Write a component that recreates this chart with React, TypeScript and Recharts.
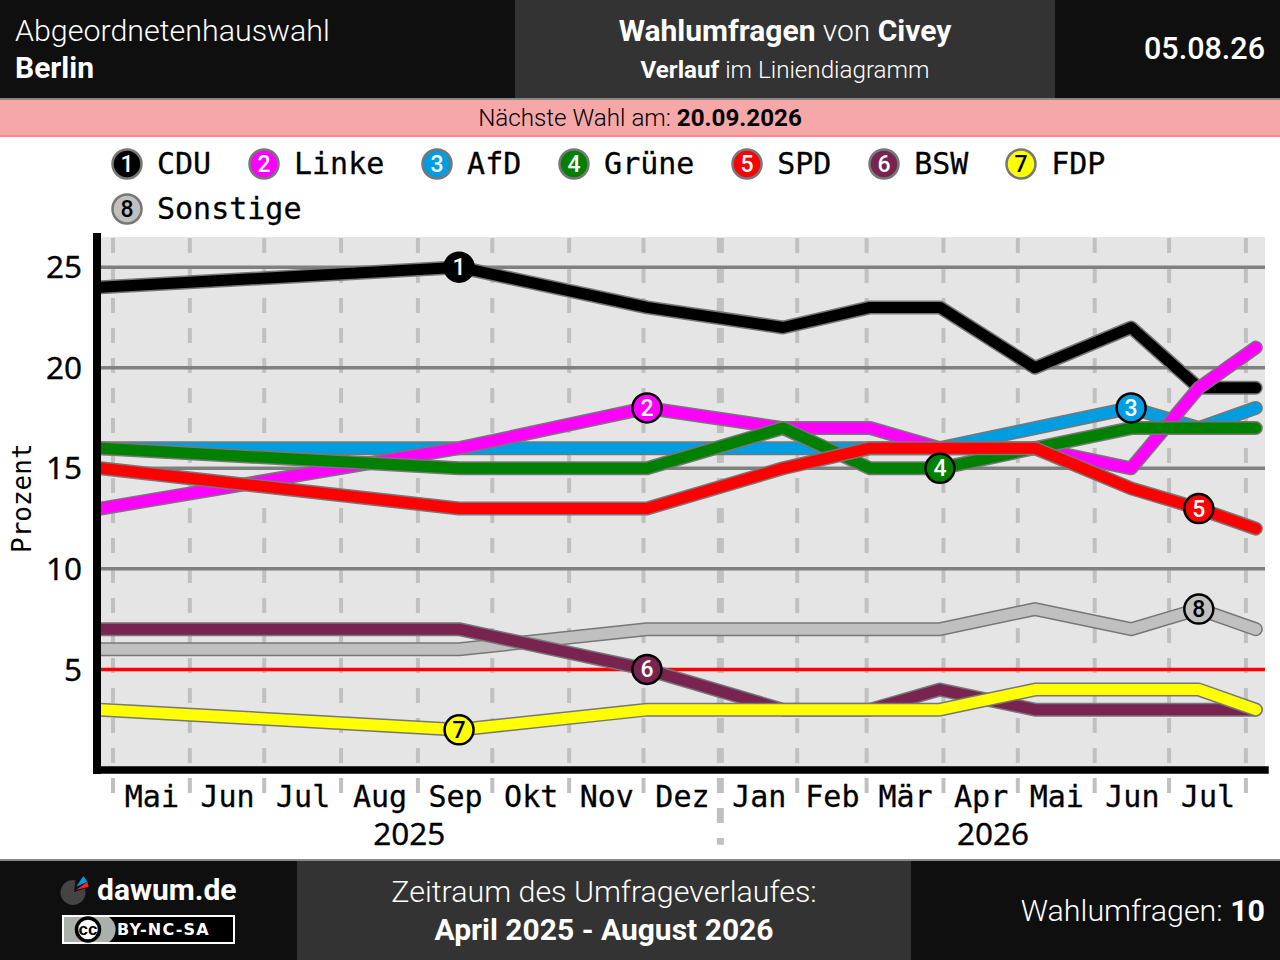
import React from 'react';
import { LineChart, Line, XAxis, YAxis, CartesianGrid, ReferenceLine, Legend } from 'recharts';

// Days since 1 May 2025
const pollDays = [-5, 139.6, 215.4, 270.3, 305.4, 333.6, 371.9, 410.7, 438, 461];

const cdu = [24, 25, 23, 22, 23, 23, 20, 22, 19, 19];
const linke = [13, 16, 18, 17, 17, 16, 16, 15, 19, 21];
const afd = [16, 16, 16, 16, 16, 16, 17, 18, 17, 18];
const gruene = [16, 15, 15, 17, 15, 15, 16, 17, 17, 17];
const spd = [15, 13, 13, 15, 16, 16, 16, 14, 13, 12];
const bsw = [7, 7, 5, 3, 3, 4, 3, 3, 3, 3];
const fdp = [3, 2, 3, 3, 3, 3, 4, 4, 4, 3];
const sonstige = [6, 6, 7, 7, 7, 7, 8, 7, 8, 7];

const monthStarts = [0, 31, 61, 92, 123, 153, 184, 214, 245, 276, 304, 335, 365, 396, 426, 457];
const monthNames = ['Mai', 'Jun', 'Jul', 'Aug', 'Sep', 'Okt', 'Nov', 'Dez', 'Jan', 'Feb', 'Mär', 'Apr', 'Mai', 'Jun', 'Jul'];
const yearStart = 245;
const yearTicks = [{ day: 119.5, label: '2025' }, { day: 355, label: '2026' }];

const yGrid = [10, 15, 20, 25];
const yTicks = [5, 10, 15, 20, 25];

interface Party {
    key: string;
    name: string;
    badge: number;
    color: string;
    textColor: string;
    values: number[];
    badgeAt: number;
}

// Legend order, numbered as in the reference
const parties: Party[] = [
    { key: 'cdu', name: 'CDU', badge: 1, color: '#000000', textColor: '#fff', values: cdu, badgeAt: 1 },
    { key: 'linke', name: 'Linke', badge: 2, color: '#ff00ff', textColor: '#fff', values: linke, badgeAt: 2 },
    { key: 'afd', name: 'AfD', badge: 3, color: '#009ee0', textColor: '#fff', values: afd, badgeAt: 7 },
    { key: 'gruene', name: 'Grüne', badge: 4, color: '#008000', textColor: '#fff', values: gruene, badgeAt: 5 },
    { key: 'spd', name: 'SPD', badge: 5, color: '#ff0000', textColor: '#fff', values: spd, badgeAt: 8 },
    { key: 'bsw', name: 'BSW', badge: 6, color: '#792350', textColor: '#fff', values: bsw, badgeAt: 2 },
    { key: 'fdp', name: 'FDP', badge: 7, color: '#ffff00', textColor: '#000', values: fdp, badgeAt: 1 },
    { key: 'sonstige', name: 'Sonstige', badge: 8, color: '#c0c0c0', textColor: '#000', values: sonstige, badgeAt: 8 },
];

// Paint order of the lines, bottom to top
const drawOrder = ['cdu', 'afd', 'linke', 'gruene', 'spd', 'sonstige', 'bsw', 'fdp'];

const chartData = pollDays.map((day, i) => {
    const row: Record<string, number> = { day };
    parties.forEach((p) => { row[p.key] = p.values[i]; });
    return row;
});

const monthMids = monthNames.map((_, i) => (monthStarts[i] + monthStarts[i + 1]) / 2);
const MONO = '"DejaVu Sans Mono", monospace';
const DIGITS = '"Noto Sans", sans-serif';
const SANS = 'Roboto, sans-serif';

const XTick = ({ x, y, payload }: any) => {
    const idx = monthMids.indexOf(payload.value);
    if (idx >= 0) {
        return <text x={x + 0.5} y={y + 28.5} textAnchor="middle" fontFamily={MONO} fontSize={30} fill="#000" stroke="#000" strokeWidth={0.3}>{monthNames[idx]}</text>;
    }
    const year = yearTicks.find((t) => t.day === payload.value);
    return <text x={x} y={y + 66.5} textAnchor="middle" fontFamily={DIGITS} fontSize={31.5} fill="#000" stroke="#000" strokeWidth={0.3}>{year ? year.label : ''}</text>;
};

const LegendContent = () => (
    <div style={{ display: 'flex', flexWrap: 'wrap', paddingLeft: 111, paddingTop: 11, width: 1100, rowGap: 13 }}>
        {parties.map((p) => (
            <div key={p.key} style={{ display: 'flex', alignItems: 'center', marginRight: 36.8, height: 32 }}>
                <svg width={32} height={32} style={{ marginRight: 14 }}>
                    <circle cx={16} cy={16} r={14.5} fill={p.color} stroke="#777" strokeWidth={2.5} />
                    <text x={16} y={24} textAnchor="middle" fontFamily={SANS} fontWeight={500} fontSize={23} fill={p.textColor}>{p.badge}</text>
                </svg>
                <span style={{ fontFamily: MONO, fontSize: 30, lineHeight: '32px', color: '#000', WebkitTextStroke: '0.3px #000' }}>{p.name}</span>
            </div>
        ))}
    </div>
);

const badgeDot = (p: Party) => (props: any) => {
    const { cx, cy, index } = props;
    if (index !== p.badgeAt) return <g key={index} />;
    return (
        <g key={index}>
            <circle cx={cx} cy={cy} r={14.5} fill={p.color} stroke="#000" strokeWidth={2.5} />
            <text x={cx} y={cy + 8} textAnchor="middle" fontFamily={SANS} fontWeight={500} fontSize={23} fill={p.textColor}>{p.badge}</text>
        </g>
    );
};

const abs = (left: number, top: number, extra: React.CSSProperties = {}): React.CSSProperties => ({
    position: 'absolute',
    left,
    top,
    whiteSpace: 'nowrap',
    fontFamily: SANS,
    ...extra,
});

const Logo = () => (
    <svg width={32} height={34} style={{ position: 'absolute', left: 59, top: 873 }}>
        <circle cx={14} cy={19.5} r={12.5} fill="#444" />
        <path d="M15 19 L17 3 L31 14 Z" fill="#0f0f0f" />
        <path d="M17.3 13.7 L24.3 3 L28.3 8.7 Z" fill="#009ee0" />
        <path d="M17 17 L28.3 8.7 L29.7 13.7 Z" fill="#ff2020" />
    </svg>
);

const CcBadge = () => (
    <svg width={174} height={30} style={{ position: 'absolute', left: 61, top: 914 }}>
        <rect x={2} y={2} width={171} height={27} fill="#000" stroke="#fff" strokeWidth={2} />
        <path d="M3 3 H48 A15 15 0 0 1 48 28 H3 Z" fill="#aab0aa" />
        <circle cx={27} cy={15.5} r={11.5} fill="#fff" stroke="#000" strokeWidth={3.5} />
        <text x={27} y={21} textAnchor="middle" fontFamily="Liberation Sans" fontWeight={700} fontSize={17} fill="#000">cc</text>
        <text x={56} y={21} fontFamily='"DejaVu Sans"' fontWeight={700} fontSize={16} letterSpacing={1.2} fill="#fff">BY-NC-SA</text>
    </svg>
);

export default function App() {
    return (
        <div style={{ position: 'absolute', left: 0, top: 0, width: 1280, height: 960, background: '#fff', overflow: 'hidden' }}>
            {/* Header */}
            <div style={abs(0, 0, { width: 1280, height: 98, background: '#0f0f0f' })} />
            <div style={abs(515, 0, { width: 540, height: 98, background: '#333' })} />
            <div style={abs(0, 98, { width: 1280, height: 2, background: '#888' })} />
            <div style={abs(15, 13, { fontSize: 30.4, lineHeight: '36px', fontWeight: 300, color: '#fff' })}>Abgeordnetenhauswahl</div>
            <div style={abs(15, 50, { fontSize: 30, lineHeight: '36px', fontWeight: 700, color: '#fff' })}>Berlin</div>
            <div style={abs(515, 13, { width: 540, textAlign: 'center', fontSize: 30, lineHeight: '36px', fontWeight: 300, color: '#fff' })}>
                <b style={{ fontWeight: 700 }}>Wahlumfragen</b> von <b style={{ fontWeight: 700 }}>Civey</b>
            </div>
            <div style={abs(515, 54, { width: 540, textAlign: 'center', fontSize: 24.2, lineHeight: '32px', fontWeight: 300, color: '#fff' })}>
                <b style={{ fontWeight: 700 }}>Verlauf</b> im Liniendiagramm
            </div>
            <div style={abs(1055, 31, { width: 210, textAlign: 'right', fontSize: 30.5, lineHeight: '36px', fontWeight: 500, color: '#fff' })}>05.08.26</div>

            {/* Next election banner */}
            <div style={abs(0, 100, { width: 1280, height: 35, background: '#f6a8a8', borderBottom: '2px solid #f88a8a', textAlign: 'center', fontSize: 24.2, lineHeight: '36px', fontWeight: 300, color: '#000' })}>
                Nächste Wahl am: <b style={{ fontWeight: 700 }}>20.09.2026</b>
            </div>

            {/* Chart */}
            <div style={abs(0, 137, { width: 1280, height: 723 })}>
                <LineChart width={1280} height={723} data={chartData} margin={{ top: 0, right: 15, bottom: 0, left: 0 }}>
                    <Legend verticalAlign="top" align="left" height={100} content={<LegendContent />} wrapperStyle={{ left: 0, top: 0, width: 1280 }} />
                    <CartesianGrid horizontal={false} vertical={false} fill="#e5e5e5" />
                    <XAxis
                        dataKey="day"
                        type="number"
                        domain={[-6.45, 464.7]}
                        ticks={[...monthMids, ...yearTicks.map((t) => t.day)]}
                        interval={0}
                        height={90}
                        tickLine={false}
                        tick={<XTick />}
                        axisLine={{ stroke: '#000', strokeWidth: 7.5, strokeLinecap: 'square' }}
                        allowDataOverflow
                    />
                    <YAxis
                        type="number"
                        domain={[0, 26.5]}
                        ticks={yTicks}
                        interval={0}
                        width={97}
                        tickLine={false}
                        tickMargin={9}
                        axisLine={{ stroke: '#000', strokeWidth: 8, strokeLinecap: 'square' }}
                        tick={{ fontFamily: DIGITS, fontSize: 31.5, fill: '#000', stroke: '#000', strokeWidth: 0.3 }}
                        label={{ value: 'Prozent', angle: -90, position: 'insideLeft', offset: 22, dy: 49.5, fontFamily: MONO, fontSize: 26, fill: '#000' }}
                    />
                    {monthStarts.map((d) => (
                        <ReferenceLine
                            key={d}
                            segment={[{ x: d, y: 26.45 }, { x: d, y: d === yearStart ? -3.72 : -1.17 }]}
                            stroke="#c0c0c0"
                            strokeWidth={d === yearStart ? 7 : 4}
                            strokeDasharray="15 15"
                            ifOverflow="visible"
                        />
                    ))}
                    {yGrid.map((v) => (
                        <ReferenceLine key={v} y={v} stroke="#808080" strokeWidth={3.5} />
                    ))}
                    <ReferenceLine y={5} stroke="#ff0000" strokeWidth={3.5} />
                    {drawOrder.flatMap((key) => {
                        const p = parties.find((q) => q.key === key) as Party;
                        return [
                            <Line key={key + '-outline'} dataKey={key} stroke="#777" strokeWidth={14} strokeLinecap="round" strokeLinejoin="round" dot={false} legendType="none" isAnimationActive={false} />,
                            <Line key={key} dataKey={key} name={p.name} stroke={p.color} strokeWidth={11} strokeLinecap="round" strokeLinejoin="round" dot={false} legendType="none" isAnimationActive={false} />,
                        ];
                    })}
                    {parties.map((p) => (
                        <Line key={p.key + '-badge'} dataKey={p.key} stroke="none" dot={badgeDot(p)} legendType="none" isAnimationActive={false} />
                    ))}
                </LineChart>
            </div>

            {/* Footer */}
            <div style={abs(0, 859, { width: 1280, height: 2, background: '#888' })} />
            <div style={abs(0, 861, { width: 1280, height: 99, background: '#0f0f0f' })} />
            <div style={abs(297, 861, { width: 614, height: 99, background: '#333' })} />
            <Logo />
            <div style={abs(97, 872, { fontSize: 30, lineHeight: '36px', fontWeight: 700, color: '#fff' })}>dawum.de</div>
            <CcBadge />
            <div style={abs(297, 874, { width: 614, textAlign: 'center', fontSize: 30.4, lineHeight: '36px', fontWeight: 300, color: '#fff' })}>Zeitraum des Umfrageverlaufes:</div>
            <div style={abs(297, 912, { width: 614, textAlign: 'center', fontSize: 30, lineHeight: '36px', fontWeight: 700, color: '#fff' })}>April 2025 - August 2026</div>
            <div style={abs(911, 893, { width: 354, textAlign: 'right', fontSize: 30.4, lineHeight: '36px', fontWeight: 300, color: '#fff' })}>
                Wahlumfragen: <b style={{ fontWeight: 700 }}>10</b>
            </div>
        </div>
    );
}
